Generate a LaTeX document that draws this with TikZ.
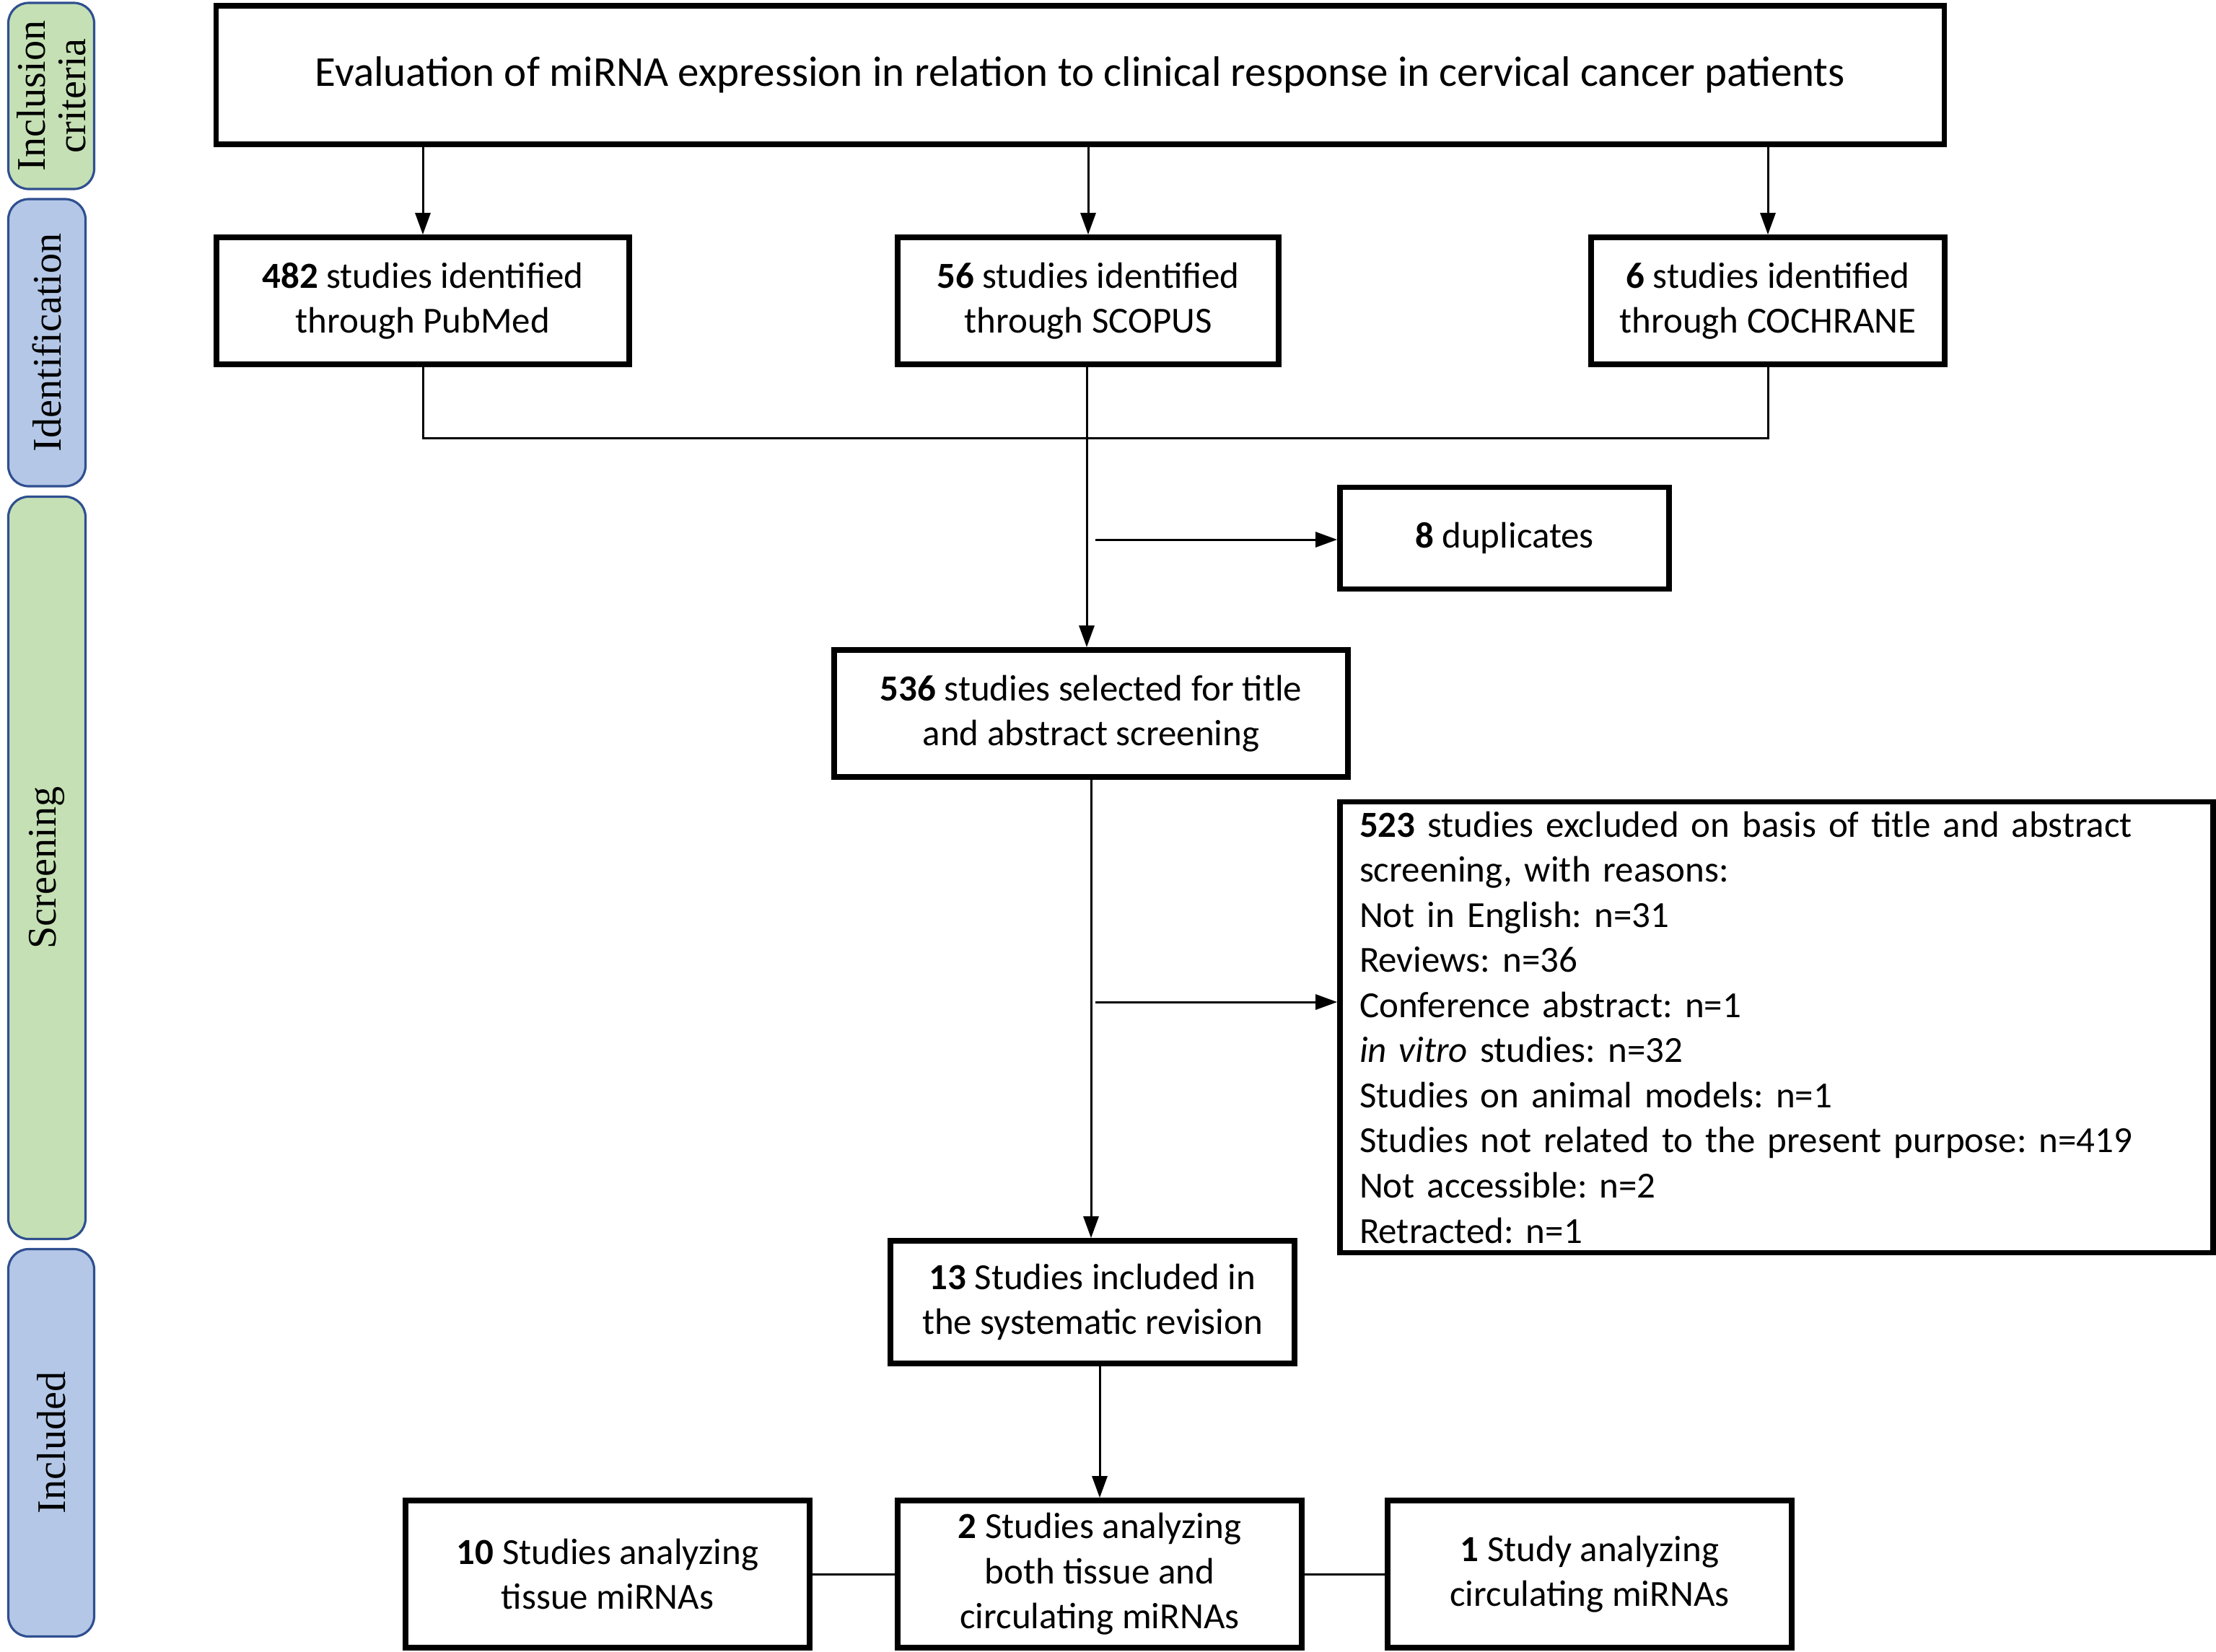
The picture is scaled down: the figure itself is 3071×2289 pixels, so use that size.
\documentclass[tikz,border=0pt]{standalone}
\usepackage{fontspec}
\setmainfont{Carlito}
\newfontfamily\sidefont{Liberation Serif}
\usepackage{xcolor}
\usetikzlibrary{arrows.meta,calc,positioning}
\definecolor{sidegreen}{HTML}{C5E0B4}
\definecolor{sideblue}{HTML}{B4C7E7}
\definecolor{sideedge}{HTML}{2F4F8F}
\frenchspacing
\begin{document}
\begin{tikzpicture}[x=0.1mm,y=-0.1mm,
    box/.style={draw=black,line width=2.2pt,align=center,inner sep=0pt,
      font=\fontsize{14.5}{17.8}\selectfont},
    side/.style={draw=sideedge,line width=0.9pt,rounded corners=8pt,rotate=90,
      align=center,inner sep=0pt,font=\sidefont\fontsize{16}{16}\selectfont},
    link/.style={draw=black,line width=0.85pt},
    arr/.style={link,-{Triangle[length=0.3cm,width=0.21cm]}}]
  \useasboundingbox (0,0) rectangle (3071,2289);
  % phase labels
  \node[side,fill=sidegreen,minimum width=2.58cm,minimum height=1.19cm] (lblinc) at (71,133) {Inclusion\\criteria};
  \node[side,fill=sideblue,minimum width=3.98cm,minimum height=1.07cm] (lblid) at (65,475) {Identification};
  \node[side,fill=sidegreen,minimum width=10.29cm,minimum height=1.07cm] (lblscr) at (65,1203) {Screening};
  \node[side,fill=sideblue,minimum width=5.37cm,minimum height=1.19cm] (lblincl) at (71,2000) {Included};
  % boxes
  \node[box,minimum width=23.95cm,minimum height=1.92cm,font=\fontsize{16.8}{20}\selectfont] (top) at (1497,104)
    {Evaluation of miRNA expression in relation to clinical response in cervical cancer patients};
  \node[box,minimum width=5.72cm,minimum height=1.76cm] (pubmed) at (586,417)
    {\textbf{482} studies identified\\through PubMed};
  \node[box,minimum width=5.28cm,minimum height=1.76cm] (scopus) at (1508,417)
    {\textbf{56} studies identified\\through SCOPUS};
  \node[box,minimum width=4.90cm,minimum height=1.76cm] (cochrane) at (2450,417)
    {\textbf{6} studies identified\\through COCHRANE};
  \node[box,minimum width=4.56cm,minimum height=1.41cm] (dup) at (2085,746)
    {\textbf{8} duplicates};
  \node[box,minimum width=7.12cm,minimum height=1.76cm] (screen) at (1512,989)
    {\textbf{536} studies selected for title\\and abstract screening};
  \node[box,minimum width=12.10cm,minimum height=6.25cm,text width=11.56cm,align=left] (excl) at (2462,1424)
    {\textbf{523} studies excluded on basis of title and abstract screening, with reasons:\\
     Not in English: n=31\\
     Reviews: n=36\\
     Conference abstract: n=1\\
     \textit{in vitro} studies: n=32\\
     Studies on animal models: n=1\\
     Studies not related to the present purpose: n=419\\
     Not accessible: n=2\\
     Retracted: n=1};
  \node[box,minimum width=5.60cm,minimum height=1.70cm] (incl) at (1514,1805)
    {\textbf{13} Studies included in\\the systematic revision};
  \node[box,minimum width=5.60cm,minimum height=2.04cm] (tissue) at (842,2182)
    {\textbf{10} Studies analyzing\\tissue miRNAs};
  \node[box,minimum width=5.60cm,minimum height=2.04cm] (both) at (1524,2182)
    {\textbf{2} Studies analyzing\\both tissue and\\circulating miRNAs};
  \node[box,minimum width=5.60cm,minimum height=2.04cm] (circ) at (2203,2182)
    {\textbf{1} Study analyzing\\circulating miRNAs};
  % connectors
  \foreach \n in {pubmed,scopus,cochrane}
    \draw[arr] (top.south -| \n) -- (\n.north);
  \coordinate (merge) at (1506,607);
  \draw[link] (pubmed.south) |- (merge) -| (cochrane.south);
  \draw[arr] (scopus.south -| merge) -- (screen.north -| merge);
  \coordinate (dupfrom) at (1518,748);
  \draw[arr] (dupfrom) -- (dupfrom -| dup.west);
  \draw[arr] (screen.south) -- (screen.south |- incl.north);
  \coordinate (exclfrom) at (1518,1389);
  \draw[arr] (exclfrom) -- (exclfrom -| excl.west);
  \draw[arr] (both.north |- incl.south) -- (both.north);
  \draw[link] (tissue.east) -- (both.west);
  \draw[link] (both.east) -- (circ.west);
\end{tikzpicture}
\end{document}
